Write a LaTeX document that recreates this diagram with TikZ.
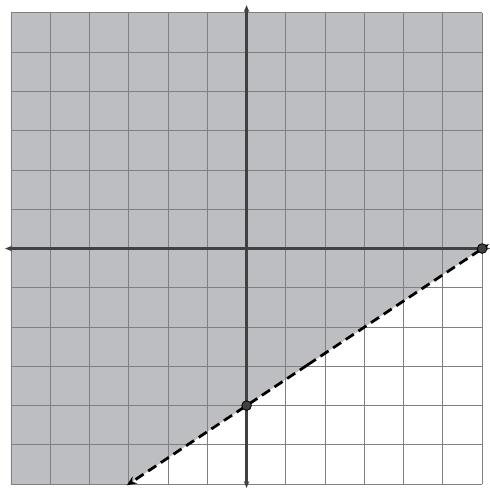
\documentclass[tikz,border=0pt]{standalone}
\usetikzlibrary{calc, arrows.meta}
\definecolor{shadegray}{RGB}{189,190,194}
\definecolor{axisgray}{RGB}{65,65,67}
\tikzset{
  dot/.style={circle, fill=axisgray, draw=black, line width=0.6pt, inner sep=0pt, minimum size=7pt},
  bound/.style={line width=2pt, dash pattern=on 7pt off 4pt, -{Stealth[length=7pt,width=6pt]}},
  axis/.style={line width=1.8pt, color=axisgray, {Stealth[length=5pt,width=4pt]}-{Stealth[length=5pt,width=4pt]}}
}
\begin{document}
\begin{tikzpicture}
	\useasboundingbox (-6.28,-6.13) rectangle (6.2,6.33);
	
	% Shaded half-plane
	\fill[shadegray] (-6,6) -- (6,6) -- (6,0) -- (-3,-6) -- (-6,-6) -- cycle;
	
	% Grid
	\draw[black!50, line width=0.7pt] (-6,-6) grid (6,6);
	
	% Axes
	\coordinate (xl) at (-6.15,0);
	\coordinate (xr) at (6.2,0);
	\coordinate (yb) at (0,-6.1);
	\coordinate (yt) at (0,6.2);
	\draw[axis] (xl) -- (xr);
	\draw[axis] (yb) -- (yt);
	
	% Boundary line
	\coordinate (lo) at (-3.05,-6.03);
	\coordinate (hi) at (6.17,0.11);
	\draw[bound] ($(lo)!0.5!(hi)$) -- (lo);
	\draw[bound] ($(lo)!0.5!(hi)$) -- (hi);
	
	\node[dot] (yint) at (0,-4) {};
	\node[dot] (xint) at (6,0) {};
	
\end{tikzpicture}
\end{document}
